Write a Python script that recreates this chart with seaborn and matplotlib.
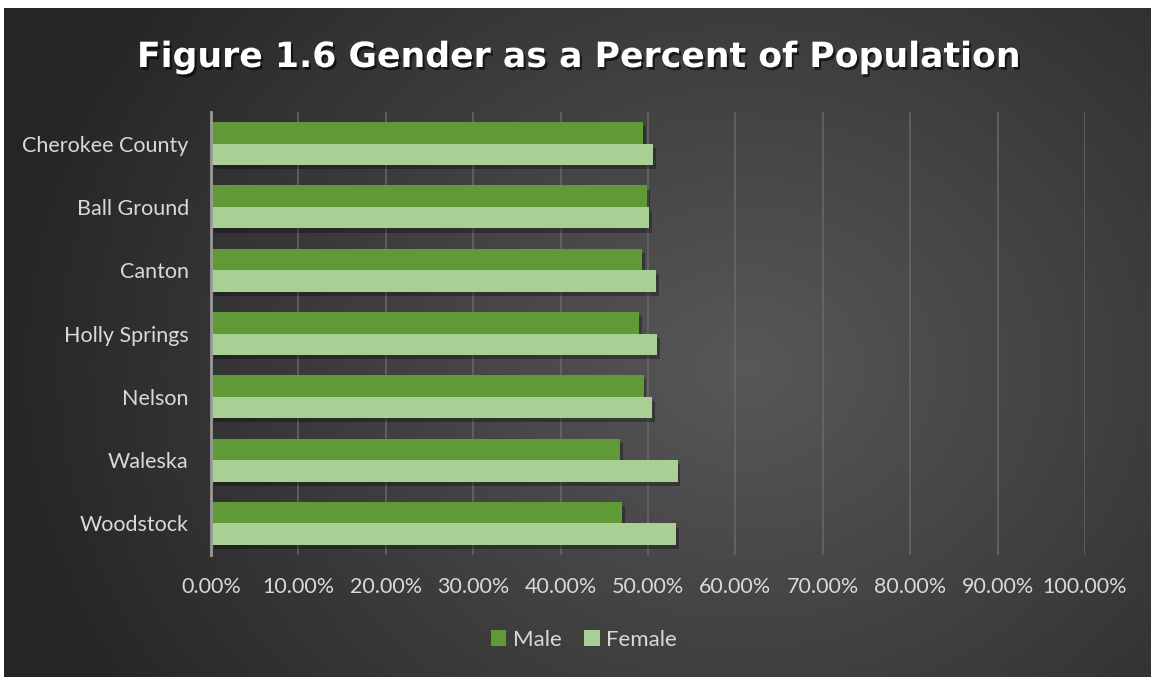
import numpy as np
import pandas as pd
import matplotlib
matplotlib.use("Agg")
import matplotlib.pyplot as plt
import matplotlib.patheffects as pe
from matplotlib.ticker import FuncFormatter, MultipleLocator
from matplotlib.patches import Patch
import seaborn as sns

categories = ["Cherokee County", "Ball Ground", "Canton", "Holly Springs", "Nelson", "Waleska", "Woodstock"]
male = [0.494, 0.499, 0.493, 0.490, 0.495, 0.468, 0.470]
female = [0.506, 0.501, 0.509, 0.510, 0.505, 0.534, 0.532]
series = ["Male", "Female"]
colors = {"Male": "#5f9a37", "Female": "#a9cf94"}
title = "Figure 1.6 Gender as a Percent of Population"

df = pd.DataFrame({
    "Location": categories * 2,
    "Gender": ["Male"] * len(categories) + ["Female"] * len(categories),
    "Value": male + female,
})

sns.set_theme(style="dark")
plt.rcParams["font.family"] = ["Lato", "DejaVu Sans"]

W, H = 1151, 677
fig = plt.figure(figsize=(W / 100, H / 100), dpi=100)
fig.patch.set_facecolor("white")

# background panel with radial gradient
bx0, by0 = 4 / W, 0
bw, bh = 1 - 4 / W, 1 - 8 / H
bg = fig.add_axes([bx0, by0, bw, bh], zorder=-5)
nx, ny = 600, 350
xx, yy = np.meshgrid(np.linspace(0, 1147, nx), np.linspace(0, 669, ny))
cx, cy = 740, 360
r = np.sqrt(((xx - cx) / 1.0) ** 2 + ((yy - cy) / 0.85) ** 2)
t = np.clip(r / 760, 0, 1)
c = 88 - (88 - 37) * t ** 1.0
img = np.dstack([c, c, c]) / 255.0
bg.imshow(img, aspect="auto", extent=[0, 1, 0, 1], origin="upper")
bg.set_axis_off()

ax = fig.add_axes([211 / W, 1 - 555 / H, (1085 - 211) / W, (555 - 112) / H])
ax.set_facecolor("none")

sns.barplot(data=df, y="Location", x="Value", hue="Gender", hue_order=series,
            palette=colors, orient="h", width=0.68, ax=ax, legend=False,
            saturation=1, linewidth=0, errorbar=None)

for p in ax.patches:
    p.set_path_effects([pe.SimplePatchShadow(offset=(2, -3), shadow_rgbFace="black", alpha=0.3),
                        pe.Normal()])

ax.set_xlim(0, 1.0)
ax.xaxis.set_major_locator(MultipleLocator(0.1))
ax.xaxis.set_major_formatter(FuncFormatter(lambda v, p: f"{v * 100:.2f}%"))
ax.grid(axis="x", color="#6a6a6a", linewidth=1.3, alpha=0.8)
ax.grid(axis="y", visible=False)
ax.set_axisbelow(True)
ax.set_xlabel("")
ax.set_ylabel("")
for s in ["top", "right", "bottom"]:
    ax.spines[s].set_visible(False)
ax.spines["left"].set_color("#9a9a9a")
ax.spines["left"].set_linewidth(2)
ax.tick_params(axis="both", colors="#d9d9d9", labelsize=15.5, length=0)
ax.tick_params(axis="x", pad=16)
ax.tick_params(axis="y", pad=16)

fig.text(579 / W, 1 - 57 / H, title, ha="center", va="center", color="white",
         fontsize=25, fontweight="bold", family=["DejaVu Sans"],
         path_effects=[pe.withSimplePatchShadow(offset=(1.5, -2), shadow_rgbFace="black", alpha=0.6)])

handles = [Patch(facecolor=colors[s], edgecolor="none", label=s) for s in series]
fig.legend(handles=handles, loc="center", bbox_to_anchor=(584 / W, 1 - 640 / H), ncol=2,
           frameon=False, labelcolor="#d9d9d9", fontsize=16, handlelength=0.7,
           handleheight=0.7, handletextpad=0.3, columnspacing=1.0)

fig.savefig("out.png", dpi=100, facecolor=fig.get_facecolor())
